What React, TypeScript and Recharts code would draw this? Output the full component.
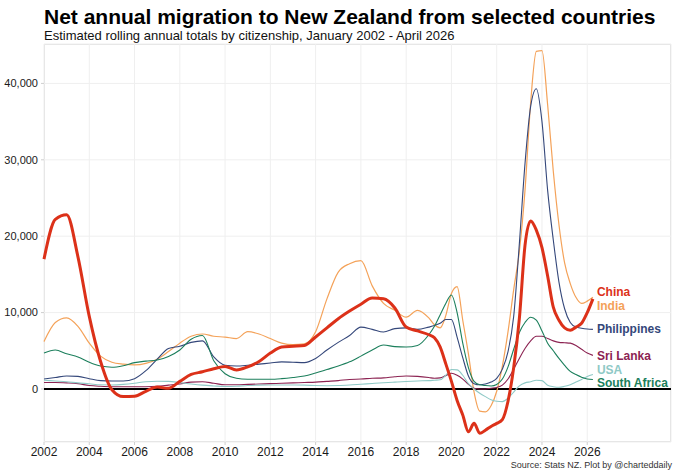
//NetMigrationChart
import React from 'react';
import { LineChart, Line, XAxis, YAxis, CartesianGrid, ReferenceLine } from 'recharts';

// half-yearly to 2019, quarterly after
const years = [
  2002, 2002.5, 2003, 2003.5, 2004, 2004.5, 2005, 2005.5, 2006, 2006.5,
  2007, 2007.5, 2008, 2008.5, 2009, 2009.5, 2010, 2010.5, 2011, 2011.5,
  2012, 2012.5, 2013, 2013.5, 2014, 2014.5, 2015, 2015.5, 2016, 2016.5,
  2017, 2017.5, 2018, 2018.5, 2019,
  2019.25, 2019.5, 2019.75, 2020, 2020.25, 2020.5, 2020.75, 2021, 2021.25, 2021.5,
  2021.75, 2022, 2022.25, 2022.5, 2022.75, 2023, 2023.25, 2023.5, 2023.75, 2024,
  2024.25, 2024.5, 2024.75, 2025, 2025.25, 2025.5, 2025.75, 2026, 2026.25,
];

const china = [
  17000, 22200, 22800, 17300, 9500, 3600, -100, -1000, -950, -300,
  250, 100, 1000, 1900, 2250, 2650, 2950, 2500, 2900, 3600,
  4700, 5500, 5600, 5700, 6800, 8000, 9200, 10200, 11100, 11900,
  11800, 10600, 8100, 7600, 7100,
  6700, 5500, 3300, 1000, -1500, -3400, -5600, -4500, -5800, -5400,
  -4900, -4500, -4000, -1600, 2800, 9200, 18800, 22000, 20800, 18500,
  14800, 10700, 9000, 8000, 7700, 8100, 8600, 10000, 11800,
];

const india = [
  6200, 8700, 9300, 8200, 6000, 4300, 3500, 3250, 3150, 3350,
  3900, 4900, 6000, 6900, 7200, 6900, 6800, 6600, 7500, 7200,
  6600, 6000, 5800, 5900, 7500, 11800, 15300, 16400, 16800, 13500,
  11200, 10300, 9400, 10300, 9300,
  8400, 8000, 9600, 12500, 13400, 9000, 4600, -400, -2900, -3000,
  -2200, -300, 3000, 7500, 13000, 18000, 26000, 37500, 44200, 44300,
  37200, 28500, 21500, 16500, 13800, 12000, 11200, 11500, 12000,
];

const philippines = [
  1300, 1500, 1700, 1650, 1350, 1100, 1050, 1050, 1350, 2400,
  3900, 5300, 5600, 6100, 6300, 4200, 3100, 3000, 3100, 3250,
  3400, 3550, 3500, 3450, 4000, 5100, 6100, 7000, 8100, 7800,
  7450, 7900, 8000, 7800, 8100,
  8300, 8600, 9100, 9100, 6800, 4100, 1700, 700, 550, 650,
  900, 1400, 2600, 4900, 9500, 19000, 29500, 37000, 39300, 35000,
  26000, 19500, 14000, 10500, 8700, 8100, 7950, 7850, 7800,
];

const sriLanka = [
  850, 850, 800, 700, 450, 350, 300, 300, 300, 300,
  350, 500, 650, 900, 950, 750, 550, 550, 600, 650,
  700, 750, 800, 850, 900, 1000, 1100, 1250, 1300, 1400,
  1450, 1600, 1700, 1650, 1500,
  1400, 1450, 1750, 2050, 1800, 1300, 600, 100, 0, 0,
  100, 200, 500, 1300, 2600, 4000, 5300, 6300, 6900, 6900,
  6600, 6300, 6100, 6050, 6000, 5700, 5200, 4700, 4400,
];

const usa = [
  1150, 1050, 950, 800, 680, 550, 530, 600, 750, 950,
  1020, 1000, 830, 650, 500, 400, 320, 350, 450, 500,
  520, 530, 520, 500, 450, 430, 450, 520, 620, 720,
  820, 900, 980, 1050, 1100,
  1150, 1200, 1800, 2550, 2500, 1800, 700, 0, -550, -1000,
  -1400, -1600, -1650, -1200, -400, 400, 800, 950, 1150, 1100,
  500, 300, 220, 350, 550, 900, 1250, 1650, 1900,
];

const southAfrica = [
  4700, 5100, 4600, 4200, 3500, 3000, 2850, 3050, 3450, 3650,
  3800, 4250, 5100, 6500, 7000, 3700, 2000, 1400, 1280, 1270,
  1270, 1350, 1500, 1700, 2100, 2550, 3000, 3550, 4300, 5100,
  5750, 5550, 5500, 5700, 7100,
  8200, 9700, 11200, 12300, 10000, 6000, 2800, 1000, 550, 450,
  400, 600, 1300, 2900, 5200, 7400, 8700, 9400, 9000, 7600,
  6000, 5000, 4000, 3100, 2300, 1900, 1550, 1300, 1250,
];

const xTicks = [2002, 2004, 2006, 2008, 2010, 2012, 2014, 2016, 2018, 2020, 2022, 2024, 2026];
const yTicks = [0, 10000, 20000, 30000, 40000];

const data = years.map((t, i) => ({
  t,
  china: china[i],
  india: india[i],
  philippines: philippines[i],
  sriLanka: sriLanka[i],
  usa: usa[i],
  southAfrica: southAfrica[i],
}));

const FONT = '"Liberation Sans", Arial, Helvetica, sans-serif';

// drawn in this order, China on top
const series = [
  { key: 'india', name: 'India', color: '#f4a259', width: 1.2, dy: 8 },
  { key: 'philippines', name: 'Philippines', color: '#34477a', width: 1.1, dy: -1 },
  { key: 'sriLanka', name: 'Sri Lanka', color: '#8c2352', width: 1.1, dy: 0 },
  { key: 'usa', name: 'USA', color: '#8fc9c6', width: 1.1, dy: -5 },
  { key: 'southAfrica', name: 'South Africa', color: '#1c7f5c', width: 1.1, dy: 3 },
  { key: 'china', name: 'China', color: '#dc3119', width: 3, dy: -7 },
];

const lastIndex = years.length - 1;

const endLabel = (name: string, color: string, dy: number) => (props: any) => {
  const { x, y, index } = props;
  if (index !== lastIndex) return <g key={`${name}-${index}`} />;
  return (
    <text
      key={`${name}-end`}
      x={x + 4}
      y={y + dy}
      dy="0.35em"
      fill={color}
      fontSize={12}
      fontWeight="bold"
      fontFamily={FONT}
    >
      {name}
    </text>
  );
};

const App: React.FC = () => {
  return (
    <div style={{ position: 'absolute', left: 0, top: 0, width: 680, height: 476, background: '#fff', fontFamily: FONT }}>
      <div style={{ position: 'absolute', left: 44, top: 4, fontSize: 21, fontWeight: 'bold', color: '#000', lineHeight: '25px', whiteSpace: 'nowrap' }}>
        Net annual migration to New Zealand from selected countries
      </div>
      <div style={{ position: 'absolute', left: 44, top: 28, fontSize: 13, color: '#111', lineHeight: '15px', whiteSpace: 'nowrap' }}>
        Estimated rolling annual totals by citizenship, January 2002 - April 2026
      </div>
      <div style={{ position: 'absolute', left: 44, top: 44, width: 627, height: 398, border: '1px solid #dedede', boxSizing: 'border-box' }} />
      <div style={{ position: 'absolute', left: 0, top: 0 }}>
        <LineChart width={680} height={476} data={data} margin={{ top: 44, right: 9, bottom: 4, left: 0 }}>
          <CartesianGrid stroke='#efefef' strokeWidth={1} />
          <XAxis
            dataKey='t'
            type='number'
            domain={[2002, 2029.7]}
            ticks={xTicks}
            height={30}
            axisLine={false}
            tickSize={3}
            tickMargin={2}
            tickLine={{ stroke: '#cfcfcf' }}
            tick={{ fill: '#1a1a1a', fontSize: 12, fontFamily: FONT }}
          />
          <YAxis
            type='number'
            domain={[-6940, 45160]}
            ticks={yTicks}
            width={44}
            axisLine={false}
            tickSize={3}
            tickMargin={3}
            tickLine={{ stroke: '#cfcfcf' }}
            tick={{ fill: '#1a1a1a', fontSize: 11, fontFamily: FONT }}
            tickFormatter={(v: number) => v.toLocaleString('en-US')}
          />
          <ReferenceLine y={0} stroke='#000' strokeWidth={2} />
          {series.map((s) => (
            <Line
              key={s.key}
              type='monotone'
              dataKey={s.key}
              stroke={s.color}
              strokeWidth={s.width}
              dot={false}
              activeDot={false}
              isAnimationActive={false}
              label={endLabel(s.name, s.color, s.dy)}
            />
          ))}
        </LineChart>
      </div>
      <div style={{ position: 'absolute', right: 8, top: 460, fontSize: 9, color: '#333', whiteSpace: 'nowrap' }}>
        Source: Stats NZ. Plot by @charteddaily
      </div>
    </div>
  );
};

export default App;
